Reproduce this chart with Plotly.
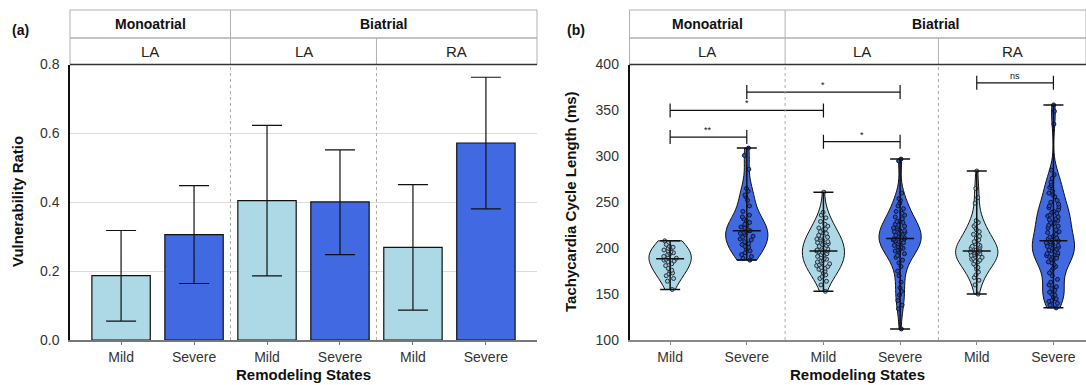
import numpy as np
import plotly.graph_objects as go

# ---------------- data ----------------
categories = ["Mild", "Severe", "Mild", "Severe", "Mild", "Severe"]
group_top = ["Monoatrial", "Biatrial"]
group_sub = ["LA", "LA", "RA"]

# panel (a): vulnerability ratio with asymmetric CI
ratio_vals = [0.187, 0.306, 0.405, 0.401, 0.269, 0.572]
ratio_low = [0.055, 0.164, 0.186, 0.248, 0.087, 0.381]
ratio_high = [0.318, 0.448, 0.623, 0.552, 0.451, 0.763]

# panel (b): tachycardia cycle lengths (ms)
mild_mono_la = [155, 164, 167, 170, 172, 173, 175, 176, 178, 181, 183, 185, 186, 187, 188,
                189, 190, 191, 193, 194, 195, 196, 197, 198, 199, 200, 201, 202, 204, 208]
severe_mono_la = [187, 189, 191, 193, 195, 197, 199, 201, 202, 204, 205, 207, 209, 210, 212,
                  213, 215, 216, 217, 218, 219, 220, 222, 223, 225, 226, 228, 230, 232, 234,
                  236, 240, 246, 252, 256, 258, 262, 265, 286, 301, 309]
mild_bi_la = [153, 160, 164, 167, 169, 171, 173, 175, 176, 177, 178, 179, 180, 181, 182,
              183, 184, 185, 186, 187, 188, 189, 190, 191, 192, 193, 194, 195, 196, 197,
              197, 198, 199, 200, 201, 202, 203, 204, 205, 206, 207, 208, 209, 210, 211,
              212, 213, 214, 216, 218, 220, 221, 222, 224, 226, 229, 233, 236, 239, 261]
severe_bi_la = [112, 134, 138, 143, 149, 153, 157, 163, 170, 175, 180, 184, 187, 190, 192,
                194, 196, 197, 198, 199, 200, 201, 202, 203, 204, 205, 206, 207, 208, 209,
                210, 210, 211, 212, 213, 214, 215, 216, 217, 218, 219, 220, 221, 222, 223,
                224, 225, 226, 228, 229, 230, 232, 234, 236, 238, 240, 243, 246, 249, 252,
                254, 260, 295, 297]
mild_bi_ra = [150, 160, 165, 168, 171, 174, 177, 179, 181, 183, 185, 186, 187, 188, 189,
              190, 191, 192, 193, 194, 194, 195, 195, 196, 196, 197, 197, 198, 199, 200,
              201, 202, 203, 204, 205, 207, 209, 211, 213, 215, 218, 220, 222, 224, 226,
              228, 230, 249, 255, 265, 284]
severe_bi_ra = [135, 138, 140, 142, 143, 145, 147, 149, 150, 152, 154, 156, 158, 160, 163,
                166, 170, 173, 176, 178, 180, 182, 184, 185, 187, 188, 189, 190, 191, 192,
                193, 194, 195, 196, 197, 198, 199, 200, 201, 202, 203, 204, 205, 206, 207,
                208, 209, 210, 211, 212, 213, 215, 217, 218, 220, 222, 224, 225, 226, 227,
                228, 230, 231, 232, 234, 235, 236, 238, 239, 240, 242, 244, 245, 246, 248,
                250, 252, 256, 258, 260, 262, 266, 268, 270, 272, 276, 280, 285, 335, 349, 356]
cycle_data = [mild_mono_la, severe_mono_la, mild_bi_la, severe_bi_la, mild_bi_ra, severe_bi_ra]

# significance brackets
sig_x1 = [0, 0, 1, 2, 4]
sig_x2 = [1, 2, 3, 3, 5]
sig_y = [321, 350, 370, 316, 380]
sig_label = ["**", "*", "*", "*", "ns"]

# ---------------- styling ----------------
LIGHT = "#ADD8E6"
ROYAL = "#4169E1"
colors = [LIGHT, ROYAL] * 3
pt_fill = ["#9cc6d6", "#2f50b8"] * 3
pt_line = ["#26323f", "#0e1638"] * 3
FONT = "Liberation Sans, Arial, Helvetica, sans-serif"

W, H = 1086, 385
def py(pix):
    return 1 - pix / H

Y_HTOP, Y_HMID, Y_PTOP, Y_PBOT = py(10), py(38), py(64.5), py(340)
XA = [70 / W, 537 / W]
XB = [629.5 / W, 1.0]

fig = go.Figure()

# ---- panel (a) bars ----
fig.add_trace(go.Bar(
    x=list(range(6)), y=ratio_vals, width=0.8,
    marker=dict(color=colors, line=dict(color="#111", width=1.2)),
    error_y=dict(type="data", symmetric=False,
                 array=[h - v for h, v in zip(ratio_high, ratio_vals)],
                 arrayminus=[v - l for l, v in zip(ratio_low, ratio_vals)],
                 color="#111", thickness=1.2, width=15),
    xaxis="x", yaxis="y", showlegend=False, hoverinfo="skip"))

# ---- panel (b) violins ----
for i, vals in enumerate(cycle_data):
    fig.add_trace(go.Violin(
        y=vals, x0=i, width=0.55, scalemode="width", spanmode="hard", bandwidth=13,
        fillcolor=colors[i], opacity=1, line=dict(color="#111", width=1),
        points="all", pointpos=0, jitter=0.35,
        marker=dict(size=4, color=pt_fill[i], line=dict(color=pt_line[i], width=1)),
        box_visible=False, meanline_visible=False,
        xaxis="x2", yaxis="y2", showlegend=False, hoverinfo="skip"))

for i, vals in enumerate(cycle_data):
    med = float(np.median(vals))
    fig.add_trace(go.Scatter(
        x=[i], y=[med], mode="markers",
        marker=dict(symbol="line-ew", size=20, color="#111", line=dict(color="#111", width=1.5)),
        error_y=dict(type="data", symmetric=False, array=[max(vals) - med],
                     arrayminus=[med - min(vals)], color="#111", thickness=1.5, width=10),
        xaxis="x2", yaxis="y2", showlegend=False, hoverinfo="skip"))

for x1, x2, yv, lab in zip(sig_x1, sig_x2, sig_y, sig_label):
    fig.add_trace(go.Scatter(
        x=[x1, x2], y=[yv, yv], mode="lines+markers",
        line=dict(color="#111", width=1.2),
        marker=dict(symbol="line-ns", size=10, color="#111", line=dict(color="#111", width=1.2)),
        xaxis="x2", yaxis="y2", showlegend=False, hoverinfo="skip"))
    fig.add_annotation(x=(x1 + x2) / 2, y=yv, yshift=7, text=lab, showarrow=False,
                       xanchor="center", yanchor="middle",
                       xref="x2", yref="y2", font=dict(size=9, color="#111", family=FONT))

# ---------------- layout ----------------
tickfont = dict(size=14, color="#333", family=FONT)
fig.update_layout(
    width=W, height=H, margin=dict(l=0, r=0, t=0, b=0, pad=0), autosize=False,
    paper_bgcolor="white", plot_bgcolor="white",
    violinmode="overlay", bargap=0.2,
    font=dict(family=FONT),
    xaxis=dict(domain=XA, anchor="y", range=[-0.7, 5.7], type="linear", automargin=False,
               tickvals=list(range(6)), ticktext=categories, tickfont=tickfont,
               showline=True, linecolor="#777", linewidth=1.5, ticks="outside",
               ticklen=3, tickcolor="#777", showgrid=False, zeroline=False),
    yaxis=dict(domain=[Y_PBOT, Y_PTOP], anchor="x", range=[0, 0.8], automargin=False,
               tickvals=[0, 0.2, 0.4, 0.6, 0.8], ticktext=["0.0", "0.2", "0.4", "0.6", "0.8"],
               tickfont=tickfont, showline=True, linecolor="#111", linewidth=1.5,
               showgrid=True, gridcolor="#dcdcdc", gridwidth=1, zeroline=False, ticks="",
               ticklabelstandoff=6),
    xaxis2=dict(domain=XB, anchor="y2", range=[-0.53, 5.425], type="linear", automargin=False,
                tickvals=list(range(6)), ticktext=categories, tickfont=tickfont,
                showline=True, linecolor="#888", linewidth=1.5, ticks="outside",
                ticklen=3, tickcolor="#888", showgrid=False, zeroline=False),
    yaxis2=dict(domain=[Y_PBOT, Y_PTOP], anchor="x2", range=[100, 400], automargin=False,
                tickvals=[100, 150, 200, 250, 300, 350, 400], tickfont=tickfont,
                showline=True, linecolor="#111", linewidth=1.5, showgrid=False,
                zeroline=False, ticks="", ticklabelstandoff=6),
)

shapes = []
for xr, xd in (("x", "x domain"), ("x2", "x2 domain")):
    for xv in (1.5, 3.5):
        shapes.append(dict(type="line", xref=xr, yref="paper", x0=xv, x1=xv,
                           y0=Y_PBOT, y1=Y_PTOP, line=dict(color="#aaa", width=1, dash="dot")))
    shapes.append(dict(type="rect", xref=xd, yref="paper", x0=0, x1=1, y0=Y_HMID, y1=Y_HTOP,
                       line=dict(color="#b0b0b0", width=1)))
    shapes.append(dict(type="rect", xref=xd, yref="paper", x0=0, x1=1, y0=Y_PTOP, y1=Y_HMID,
                       line=dict(color="#b0b0b0", width=1)))
    shapes.append(dict(type="line", xref=xr, yref="paper", x0=1.5, x1=1.5, y0=Y_PTOP, y1=Y_HTOP,
                       line=dict(color="#b0b0b0", width=1)))
    shapes.append(dict(type="line", xref=xr, yref="paper", x0=3.5, x1=3.5, y0=Y_PTOP, y1=Y_HMID,
                       line=dict(color="#b0b0b0", width=1)))
    shapes.append(dict(type="line", xref=xd, yref="paper", x0=0, x1=1, y0=Y_PTOP, y1=Y_PTOP,
                       line=dict(color="#333", width=1.6)))
fig.update_layout(shapes=shapes)

def note(x, y, text, size, xref="paper", yref="paper", color="#111", angle=0):
    fig.add_annotation(x=x, y=y, xref=xref, yref=yref, text=text, showarrow=False,
                       xanchor="center", yanchor="middle", textangle=angle,
                       font=dict(size=size, color=color, family=FONT))

for xr, left, right in (("x", -0.7, 5.7), ("x2", -0.53, 5.425)):
    top_centers = [(left + 1.5) / 2, (1.5 + right) / 2]
    for txt, cx in zip(group_top, top_centers):
        note(cx, (Y_HTOP + Y_HMID) / 2, f"<b>{txt}</b>", 14, xref=xr)
    sub_centers = [(left + 1.5) / 2, 2.5, (3.5 + right) / 2]
    for txt, cx in zip(group_sub, sub_centers):
        note(cx, (Y_HMID + Y_PTOP) / 2, txt, 15, xref=xr, color="#222")

note(20 / W, py(30), "<b>(a)</b>", 14)
note(576 / W, py(30), "<b>(b)</b>", 14)
note(18 / W, py(202), "<b>Vulnerability Ratio</b>", 15, angle=-90)
note(571 / W, py(202), "<b>Tachycardia Cycle Length (ms)</b>", 15, angle=-90)
note((XA[0] + XA[1]) / 2, py(374), "<b>Remodeling States</b>", 15)
note((XB[0] + XB[1]) / 2, py(374), "<b>Remodeling States</b>", 15)

fig.write_html("out.html", config={"displayModeBar": False},
               post_script="document.body.style.margin='0';document.body.style.overflow='hidden';")
